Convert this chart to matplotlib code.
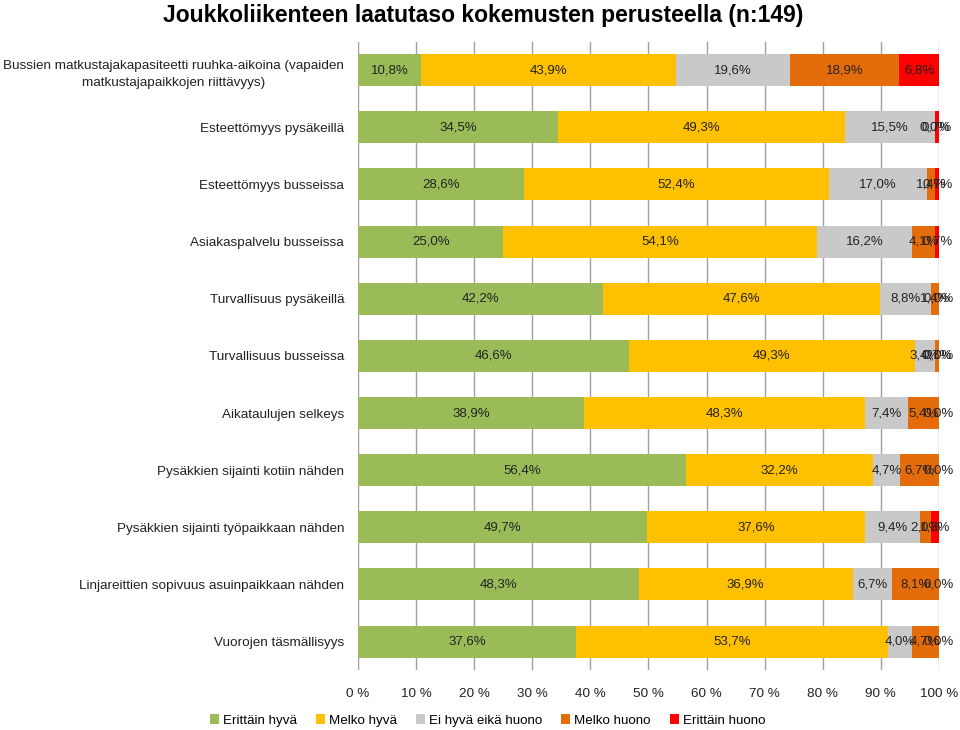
import numpy as np
import matplotlib.pyplot as plt
from matplotlib.patches import Patch

plt.rcParams['font.family'] = ['Liberation Sans', 'DejaVu Sans']

# categories, top to bottom
categories = [
    "Bussien matkustajakapasiteetti ruuhka-aikoina (vapaiden\nmatkustajapaikkojen riittävyys)",
    "Esteettömyys pysäkeillä",
    "Esteettömyys busseissa",
    "Asiakaspalvelu busseissa",
    "Turvallisuus pysäkeillä",
    "Turvallisuus busseissa",
    "Aikataulujen selkeys",
    "Pysäkkien sijainti kotiin nähden",
    "Pysäkkien sijainti työpaikkaan nähden",
    "Linjareittien sopivuus asuinpaikkaan nähden",
    "Vuorojen täsmällisyys",
]
series_names = ["Erittäin hyvä", "Melko hyvä", "Ei hyvä eikä huono", "Melko huono", "Erittäin huono"]
erittain_hyva = [10.8, 34.5, 28.6, 25.0, 42.2, 46.6, 38.9, 56.4, 49.7, 48.3, 37.6]
melko_hyva = [43.9, 49.3, 52.4, 54.1, 47.6, 49.3, 48.3, 32.2, 37.6, 36.9, 53.7]
ei_hyva_eika_huono = [19.6, 15.5, 17.0, 16.2, 8.8, 3.4, 7.4, 4.7, 9.4, 6.7, 4.0]
melko_huono = [18.9, 0.0, 1.4, 4.1, 1.4, 0.7, 5.4, 6.7, 2.0, 8.1, 4.7]
erittain_huono = [6.8, 0.7, 0.7, 0.7, 0.0, 0.0, 0.0, 0.0, 1.3, 0.0, 0.0]
xticks = [0, 10, 20, 30, 40, 50, 60, 70, 80, 90, 100]

colors = ["#9BBB59", "#FFC000", "#C9C9C9", "#E46C0A", "#FF0000"]
all_series = [erittain_hyva, melko_hyva, ei_hyva_eika_huono, melko_huono, erittain_huono]

fig = plt.figure(figsize=(9.6, 7.3), dpi=100)
ax = fig.add_axes([0.373, 0.082, 0.605, 0.861])
ax.set_axisbelow(True)

y = np.arange(len(categories))
left = np.zeros(len(categories))
for vals, col in zip(all_series, colors):
    vals = np.array(vals)
    ax.barh(y, vals, left=left, height=0.56, color=col, zorder=2)
    # data labels in the middle of each segment (zeros too, like the original)
    for yi, (l, v) in enumerate(zip(left, vals)):
        ax.text(l + v / 2, yi, f"{v:.1f}%".replace('.', ','), ha='center', va='center',
                fontsize=9.5, color='#222222', zorder=3)
    left += vals

ax.set_ylim(len(categories) - 0.5, -0.5)
ax.set_xlim(0, 100)
ax.set_yticks(y)
ax.set_yticklabels(categories, fontsize=9.7, color='#222222')
ax.set_xticks(xticks)
ax.set_xticklabels([f"{t} %" for t in xticks], fontsize=9.7, color='#222222')
ax.tick_params(axis='y', length=0, pad=10)
ax.tick_params(axis='x', length=0, pad=13)
for lab in ax.get_yticklabels():
    lab.set_multialignment('center')
    lab.set_linespacing(1.55)
for s in ax.spines.values():
    s.set_visible(False)
ax.grid(axis='x', color='#A0A0A0', linewidth=1, zorder=0)

fig.text(0.503, 0.995, "Joukkoliikenteen laatutaso kokemusten perusteella (n:149)",
         ha='center', va='top', fontsize=16.5, fontweight='bold')

handles = [Patch(facecolor=c, label=n) for c, n in zip(colors, series_names)]
fig.legend(handles=handles, loc='center', bbox_to_anchor=(0.508, 0.013), ncol=5, frameon=False,
           fontsize=9.6, handlelength=0.7, handleheight=0.7, handletextpad=0.3, columnspacing=1.4)

fig.savefig("out.png", dpi=100)
